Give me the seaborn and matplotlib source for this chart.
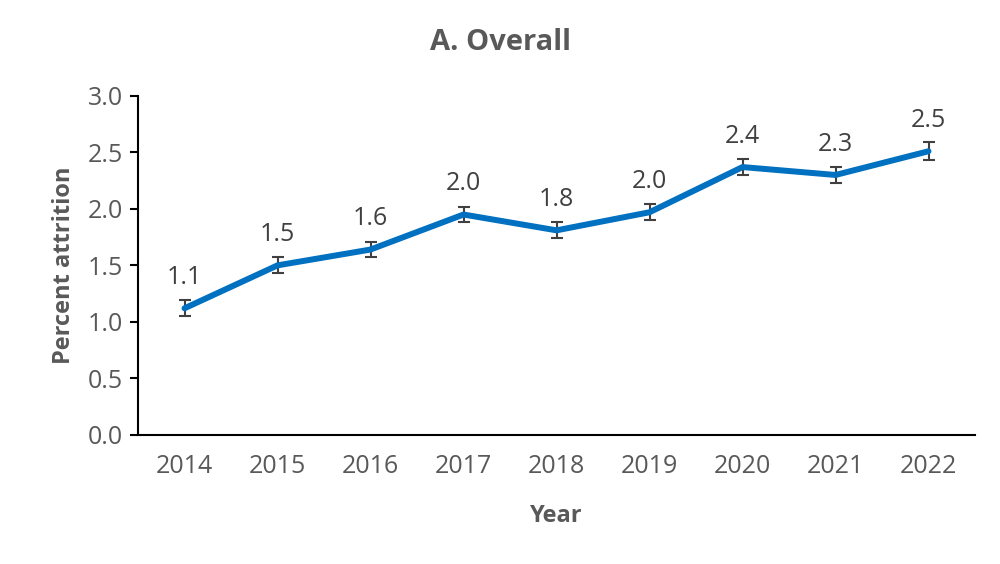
import seaborn as sns
import pandas as pd
import matplotlib.pyplot as plt

# значения
years = ["2014", "2015", "2016", "2017", "2018", "2019", "2020", "2021", "2022"]
attrition = [1.12, 1.50, 1.64, 1.95, 1.81, 1.97, 2.37, 2.30, 2.51]
err = [0.07, 0.07, 0.07, 0.07, 0.07, 0.07, 0.07, 0.07, 0.08]
labels = ["1.1", "1.5", "1.6", "2.0", "1.8", "2.0", "2.4", "2.3", "2.5"]

df = pd.DataFrame({"year": years, "attrition": attrition, "err": err, "label": labels})
df["pos"] = range(len(df))

sns.set_style("white")
plt.rcParams["font.family"] = ["Open Sans", "DejaVu Sans"]
grey = "#595959"

fig, ax = plt.subplots(figsize=(10, 5.64), dpi=100)
fig.subplots_adjust(left=0.138, right=0.975, top=0.830, bottom=0.229)

ax.errorbar(df["pos"], df["attrition"], yerr=df["err"], fmt="none",
            ecolor="#404040", elinewidth=1.5, capsize=4.5, capthick=1.5, zorder=2)
sns.lineplot(data=df, x="pos", y="attrition", color="#0070C0", linewidth=4.3, ax=ax, zorder=3)

for _, r in df.iterrows():
    ax.annotate(r["label"], (r["pos"], r["attrition"]), xytext=(0, 13),
                textcoords="offset points", ha="center", va="bottom",
                fontsize=18, color="#404040")

ax.set_xlim(-0.5, len(df) - 0.5)
ax.set_ylim(0, 3.0)
ax.set_yticks([0, 0.5, 1.0, 1.5, 2.0, 2.5, 3.0])
ax.set_yticklabels([f"{v:.1f}" for v in ax.get_yticks()])
ax.set_xticks(df["pos"])
ax.set_xticklabels(df["year"])
ax.set_xticks([p - 0.5 for p in range(len(df) + 1)], minor=True)
ax.tick_params(axis="x", which="major", length=0, pad=14, labelsize=18, labelcolor=grey)
ax.tick_params(axis="x", which="minor", length=7, width=1.5, color="black", direction="out")
ax.tick_params(axis="y", length=6, width=1.5, color="black", direction="out",
               labelsize=18, labelcolor=grey, left=True, pad=5)

for s in ["top", "right"]:
    ax.spines[s].set_visible(False)
for s in ["left", "bottom"]:
    ax.spines[s].set_color("black")
    ax.spines[s].set_linewidth(1.5)

ax.set_xlabel("Year", fontsize=17, fontweight="bold", color=grey, labelpad=18)
ax.set_ylabel("Percent attrition", fontsize=17, fontweight="bold", color=grey, labelpad=8)
fig.suptitle("A. Overall", x=0.5, y=0.925, va="center",
             fontsize=21, fontweight="bold", color=grey)

plt.savefig("out.png")
